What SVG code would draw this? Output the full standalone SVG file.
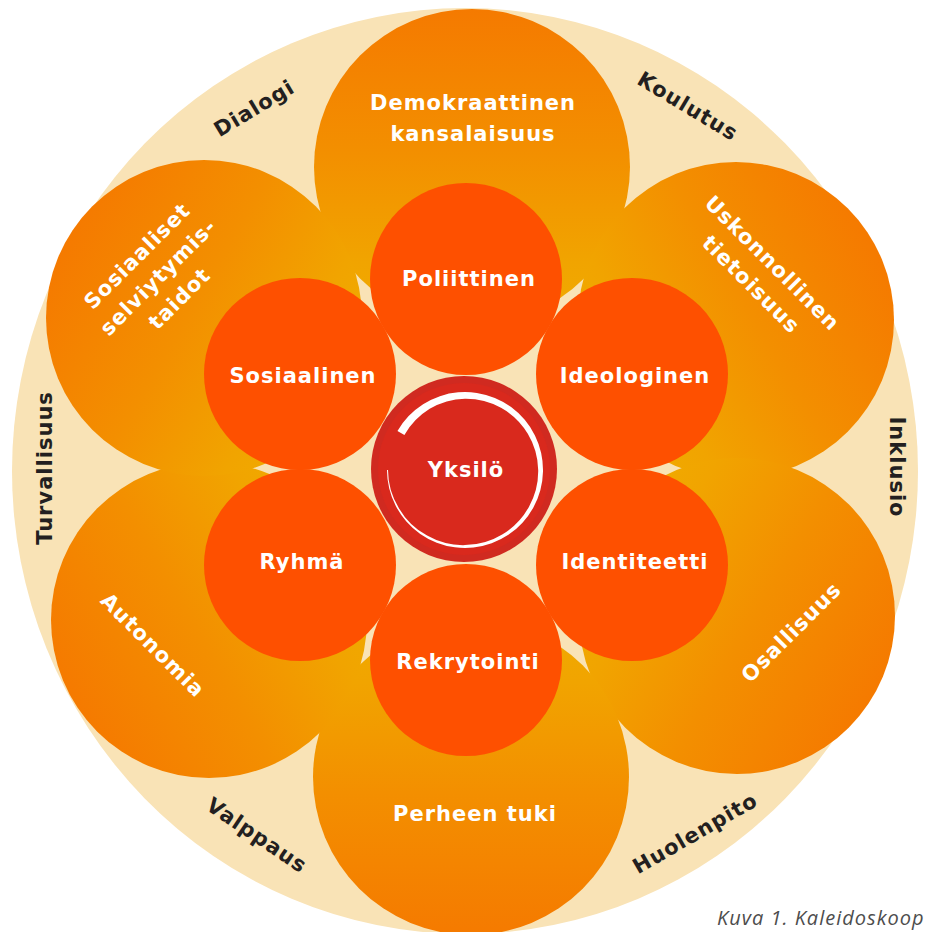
<svg xmlns="http://www.w3.org/2000/svg" xmlns:xlink="http://www.w3.org/1999/xlink" width="926" height="932" viewBox="0 0 926 932">
<style>
.inner{fill:#fe5000}
.lbl{font-family:'DejaVu Sans','Liberation Sans',sans-serif;font-weight:bold;font-size:21px;letter-spacing:1px;text-anchor:middle}
.w{fill:#ffffff}
.d{fill:#231f20}
.cap{font-family:'Open Sans','Liberation Sans',sans-serif;font-style:italic;font-size:20px;letter-spacing:1px;fill:#4d4d4d}
</style>
<defs>
<linearGradient id="gBase">
<stop offset="0" stop-color="#f57a00"/>
<stop offset="0.45" stop-color="#f38f00"/>
<stop offset="0.8" stop-color="#f1a400"/>
<stop offset="1" stop-color="#f0ab00"/>
</linearGradient>
<linearGradient id="gT" xlink:href="#gBase" x1="0.5" y1="0" x2="0.5" y2="1"/>
<linearGradient id="gB" xlink:href="#gBase" x1="0.5" y1="1" x2="0.5" y2="0"/>
<linearGradient id="gUL" xlink:href="#gBase" x1="0.067" y1="0.25" x2="0.933" y2="0.75"/>
<linearGradient id="gUR" xlink:href="#gBase" x1="0.933" y1="0.25" x2="0.067" y2="0.75"/>
<linearGradient id="gLL" xlink:href="#gBase" x1="0.067" y1="0.75" x2="0.933" y2="0.25"/>
<linearGradient id="gLR" xlink:href="#gBase" x1="0.933" y1="0.75" x2="0.067" y2="0.25"/>
</defs>
<rect width="926" height="932" fill="#ffffff"/>
<ellipse id="ring" cx="465" cy="471" rx="453" ry="463" fill="#f9e3b6"/>

<g id="demokraattinen">
<circle cx="472" cy="167" r="158" fill="url(#gT)"/>
<text class="lbl w" x="473" y="110">Demokraattinen</text>
<text class="lbl w" x="473" y="141">kansalaisuus</text>
</g>
<g id="uskonnollinen">
<circle cx="736" cy="320" r="158" fill="url(#gUR)"/>
<g transform="translate(762 273.5) rotate(45)">
<text class="lbl w" x="0" y="-7.5">Uskonnollinen</text>
<text class="lbl w" x="0" y="22.5">tietoisuus</text>
</g>
</g>
<g id="osallisuus">
<circle cx="737" cy="616" r="158" fill="url(#gLR)"/>
<text class="lbl w" transform="translate(791 632) rotate(-45)" x="0" y="7.5">Osallisuus</text>
</g>
<g id="perheen-tuki">
<circle cx="471" cy="777" r="158" fill="url(#gB)"/>
<text class="lbl w" x="475" y="821">Perheen tuki</text>
</g>
<g id="autonomia">
<circle cx="209" cy="620" r="158" fill="url(#gLL)"/>
<text class="lbl w" transform="translate(153 645) rotate(45)" x="0" y="7.5">Autonomia</text>
</g>
<g id="sosiaaliset">
<circle cx="204" cy="318" r="158" fill="url(#gUL)"/>
<g transform="translate(158 277) rotate(-45)">
<text class="lbl w" x="0" y="-22.5">Sosiaaliset</text>
<text class="lbl w" x="0" y="7.5">selviytymis-</text>
<text class="lbl w" x="0" y="37.5">taidot</text>
</g>
</g>

<g id="poliittinen"><circle class="inner" cx="466" cy="279" r="96"/><text class="lbl w" x="469" y="286">Poliittinen</text></g>
<g id="sosiaalinen"><circle class="inner" cx="300" cy="374" r="96"/><text class="lbl w" x="303" y="383">Sosiaalinen</text></g>
<g id="ideologinen"><circle class="inner" cx="632" cy="374" r="96"/><text class="lbl w" x="635" y="383">Ideologinen</text></g>
<g id="ryhma"><circle class="inner" cx="300" cy="565" r="96"/><text class="lbl w" x="302" y="569">Ryhmä</text></g>
<g id="identiteetti"><circle class="inner" cx="632" cy="565" r="96"/><text class="lbl w" x="635" y="569">Identiteetti</text></g>
<g id="rekrytointi"><circle class="inner" cx="466" cy="660" r="96"/><text class="lbl w" x="468" y="669">Rekrytointi</text></g>

<g id="yksilo">
<circle cx="464" cy="469" r="93" fill="#d02a20"/>
<circle cx="464" cy="469" r="86" fill="#d9291d"/>
<path fill="#ffffff" d="M397.45 431 A78 78 0 1 1 387 470 L388 470 A73 73 0 0 0 398.9 508.2 A73 73 0 0 0 427.1 535.6 A73 73 0 0 0 465 545.1 A73 73 0 0 0 502.2 534.5 A73 73 0 0 0 528.9 506.9 A73 73 0 0 0 538.2 470 A73 73 0 0 0 527.8 433.7 A73 73 0 0 0 501 407.7 A73 73 0 0 0 465 398.7 A73 73 0 0 0 429.7 408.8 A73 73 0 0 0 404.4 435 Z"/>
<text class="lbl w" x="466" y="477">Yksilö</text>
</g>

<g id="ring-labels">
<text class="lbl d" transform="translate(254 108) rotate(-31)" x="0" y="7.5">Dialogi</text>
<text class="lbl d" transform="translate(688 106) rotate(31)" x="0" y="7.5">Koulutus</text>
<text class="lbl d" transform="translate(44 468) rotate(-90)" x="0" y="7.5">Turvallisuus</text>
<text class="lbl d" transform="translate(897 467) rotate(90)" x="0" y="7.5">Inklusio</text>
<text class="lbl d" transform="translate(257 835) rotate(34)" x="0" y="7.5">Valppaus</text>
<text class="lbl d" transform="translate(695 833) rotate(-30)" x="0" y="7.5">Huolenpito</text>
</g>
<g id="connectors"/>
<text class="cap" x="717" y="925">Kuva 1. Kaleidoskoop</text>
</svg>
